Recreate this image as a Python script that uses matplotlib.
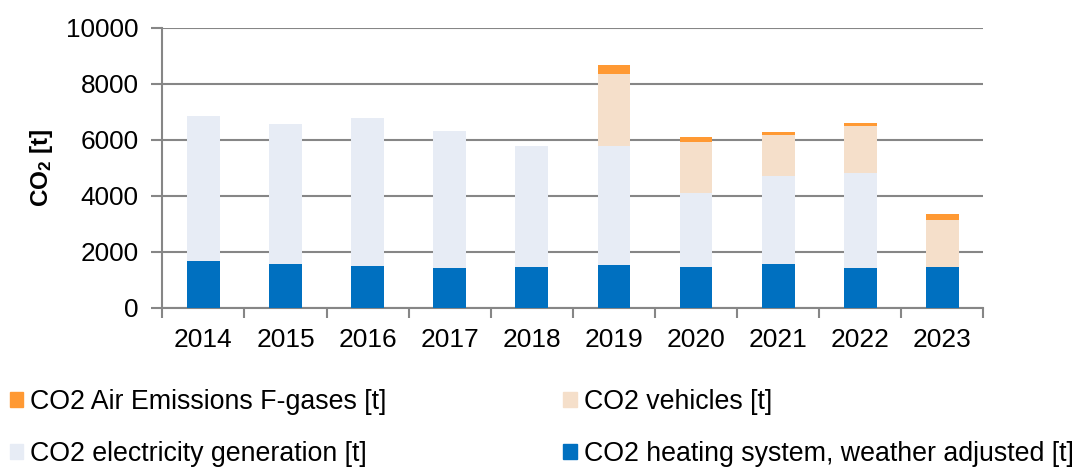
import matplotlib.pyplot as plt
from matplotlib.patches import Patch
import numpy as np

plt.rcParams['font.family'] = ['Liberation Sans', 'DejaVu Sans']
plt.rcParams['mathtext.fontset'] = 'custom'
plt.rcParams['mathtext.rm'] = 'Liberation Sans'
plt.rcParams['mathtext.bf'] = 'Liberation Sans:bold'

# data (t CO2)
years = ['2014', '2015', '2016', '2017', '2018',
         '2019', '2020', '2021', '2022', '2023']
heating = [1656, 1559, 1498, 1427, 1462, 1513, 1441, 1570, 1416, 1452]
electricity = [5182, 5018, 5283, 4888, 4301, 4276, 2663, 3143, 3405, 0]
vehicles = [0, 0, 0, 0, 0, 2580, 1803, 1445, 1674, 1695]
fgases = [0, 0, 0, 0, 0, 312, 193, 132, 118, 204]

c_heat = '#0070C0'
c_elec = '#E7ECF5'
c_veh = '#F5DFCA'
c_fgas = '#FF9933'

fig = plt.figure(figsize=(10.8, 4.68), dpi=100)
ax = fig.add_axes([0.1503, 0.3429, 0.7603, 0.5973])

x = np.arange(len(years))
w = 0.4
b1 = np.array(heating)
b2 = b1 + np.array(electricity)
b3 = b2 + np.array(vehicles)
ax.bar(x, heating, w, color=c_heat, zorder=3)
ax.bar(x, electricity, w, bottom=b1, color=c_elec, zorder=3)
ax.bar(x, vehicles, w, bottom=b2, color=c_veh, zorder=3)
ax.bar(x, fgases, w, bottom=b3, color=c_fgas, zorder=3)

ax.set_xlim(-0.5, len(years) - 0.5)
ax.set_ylim(0, 10000)
ax.set_yticks(range(0, 10001, 2000))
ax.yaxis.grid(True, color='#868686', linewidth=1.5, zorder=0)

ax.set_xticks(x)
ax.set_xticklabels(years, fontsize=19)
ax.set_xticks(np.arange(-0.5, len(years)), minor=True)
ax.tick_params(axis='x', which='major', length=0, pad=15)
ax.tick_params(axis='x', which='minor', length=7, width=1.5,
               color='#868686', direction='out')
ax.tick_params(axis='y', labelsize=18.8, length=8, width=1.5,
               color='#868686', pad=9)

for s in ['top', 'right']:
    ax.spines[s].set_visible(False)
for s in ['left', 'bottom']:
    ax.spines[s].set_color('#868686')
    ax.spines[s].set_linewidth(1.5)

ax.set_ylabel(r'$\mathbf{CO_2}$ [t]', fontsize=17.5, fontweight='bold',
              labelpad=8)

handles = [Patch(color=c_fgas), Patch(color=c_elec),
           Patch(color=c_veh), Patch(color=c_heat)]
labels = ['CO2 Air Emissions F-gases [t]', 'CO2 electricity generation [t]',
          'CO2 vehicles [t]', 'CO2 heating system, weather adjusted [t]']
fig.legend(handles, labels, ncol=2, loc='upper left',
           bbox_to_anchor=(0.0093, 0.168), bbox_transform=fig.transFigure,
           frameon=False, fontsize=19.3, handlelength=0.5,
           handleheight=0.5, handletextpad=0.25, columnspacing=6.6,
           labelspacing=0.95, borderaxespad=0.0, borderpad=0.0)

fig.savefig('out.png', dpi=100)
